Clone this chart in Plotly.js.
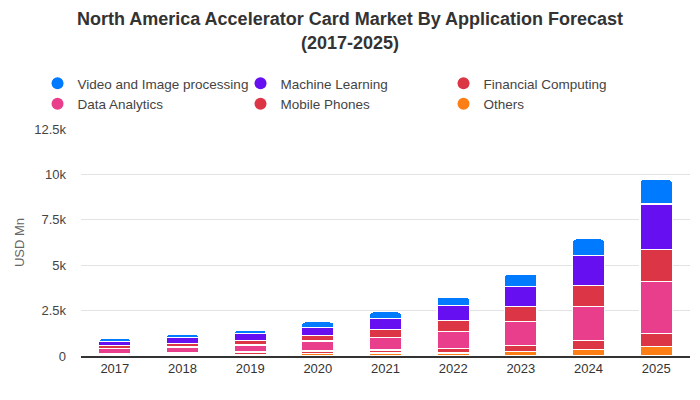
<!DOCTYPE html>
<html>
<head>
<meta charset="utf-8">
<script src="https://cdn.plot.ly/plotly-3.0.1.min.js"></script>
<style>html,body{margin:0;padding:0;background:#fff;}#chart{width:700px;height:400px;}</style>
</head>
<body>
<div id="chart"></div>
<script>
const years = ['2017','2018','2019','2020','2021','2022','2023','2024','2025'];
const others = [0.05, 0.07, 0.10, 0.13, 0.17, 0.17, 0.26, 0.37, 0.51];
const mobilePhones = [0.10, 0.10, 0.12, 0.15, 0.16, 0.25, 0.33, 0.50, 0.74];
const dataAnalytics = [0.26, 0.33, 0.39, 0.55, 0.70, 0.94, 1.32, 1.87, 2.87];
const financialComputing = [0.16, 0.20, 0.26, 0.31, 0.44, 0.61, 0.83, 1.16, 1.76];
const machineLearning = [0.25, 0.31, 0.38, 0.44, 0.59, 0.83, 1.10, 1.65, 2.49];
const videoImage = [0.15, 0.20, 0.18, 0.30, 0.37, 0.45, 0.68, 0.90, 1.34];

const seriesNames = ['Others','Mobile Phones','Data Analytics','Financial Computing','Machine Learning','Video and Image processing'];
const seriesValues = [others, mobilePhones, dataAnalytics, financialComputing, machineLearning, videoImage];
const seriesColors = ['#fd7e14','#dc3545','#e83e8c','#dc3545','#6610f2','#007bff'];

const traces = [];
seriesNames.forEach((name, i) => {
  traces.push({
    type: 'bar', x: years, y: seriesValues[i].map(v => v * 1000), name: name,
    marker: {color: seriesColors[i], line: {color: '#ffffff', width: 1.2}},
    showlegend: false, hoverinfo: 'skip'
  });
});
// legend order: Video, ML, Financial, Data, Mobile, Others
for (let i = seriesNames.length - 1; i >= 0; i--) {
  traces.push({
    type: 'scatter', mode: 'markers', x: [null], y: [null], name: seriesNames[i],
    marker: {color: seriesColors[i], symbol: 'circle', size: 13},
    showlegend: true
  });
}

const layout = {
  width: 700, height: 400,
  paper_bgcolor: '#ffffff', plot_bgcolor: '#ffffff',
  font: {family: 'Liberation Sans, Arial, sans-serif', color: '#444', size: 13},
  title: {text: '<b>North America Accelerator Card Market By Application Forecast<br>(2017-2025)</b>',
          font: {size: 18, color: '#333333'}, x: 0.5, xanchor: 'center', yref: 'container', y: 0.937, yanchor: 'top'},
  margin: {l: 81, r: 10, t: 129, b: 44},
  barmode: 'stack', bargap: 0.52, barcornerradius: 4,
  xaxis: {type: 'category', showgrid: false, showline: true, linecolor: '#333', linewidth: 1.5,
          tickfont: {size: 13, color: '#333'}, ticks: '', fixedrange: true},
  yaxis: {range: [0, 12500], tickvals: [0, 2500, 5000, 7500, 10000, 12500],
          ticktext: ['0','2.5k','5k','7.5k','10k','12.5k'],
          gridcolor: '#e3e3e3', gridwidth: 1, zeroline: false, showline: false,
          tickfont: {size: 13, color: '#444'}, ticklabelstandoff: 14,
          title: {text: 'USD Mn', font: {size: 13, color: '#666'}, standoff: 6}},
  legend: {orientation: 'h', traceorder: 'normal', xref: 'container', yref: 'container',
           x: 0.0536, xanchor: 'left', y: 0.83, yanchor: 'top', entrywidth: 158,
           bgcolor: 'rgba(0,0,0,0)',
           font: {size: 13.5, color: '#444'}, itemsizing: 'constant', tracegroupgap: 0}
};

Plotly.newPlot('chart', traces, layout, {displayModeBar: false, staticPlot: true});
</script>
</body>
</html>
